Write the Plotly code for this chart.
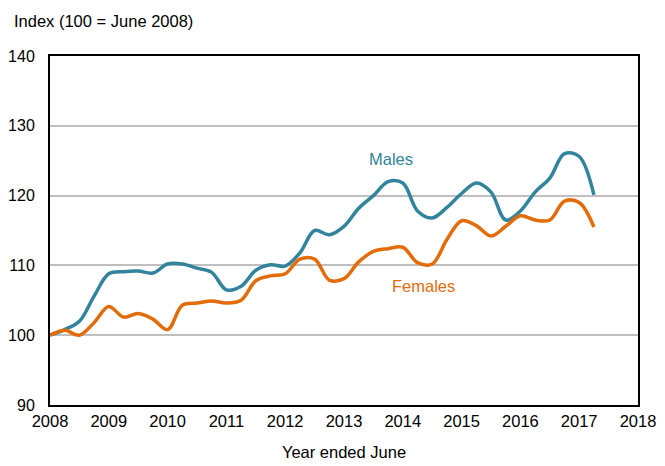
import plotly.graph_objects as go

years = [2008 + i * 0.25 for i in range(38)]

males = [100.0, 100.8, 102.0, 105.6, 108.8, 109.1, 109.2, 108.9,
         110.2, 110.2, 109.6, 109.0, 106.5, 107.0, 109.3, 110.1,
         109.9, 111.8, 115.0, 114.4, 115.6, 118.2, 120.0, 122.0,
         121.8, 117.8, 116.8, 118.3, 120.3, 121.8, 120.5, 116.5,
         117.8, 120.5, 122.5, 126.0, 125.6, 120.1]

females = [100.0, 100.7, 100.0, 101.8, 104.1, 102.6, 103.1, 102.3,
           100.8, 104.3, 104.6, 104.9, 104.6, 105.0, 107.8, 108.5,
           108.8, 110.9, 110.9, 107.9, 108.1, 110.5, 112.0, 112.4,
           112.6, 110.4, 110.2, 113.7, 116.4, 115.7, 114.2, 115.6,
           117.1, 116.5, 116.5, 119.2, 119.0, 115.5]

x_ticks = list(range(2008, 2019))
y_ticks = [90, 100, 110, 120, 130, 140]

TEAL = "#31849B"
ORANGE = "#E36C09"
FONT = "Liberation Sans, Arial, sans-serif"

fig = go.Figure()
fig.add_trace(go.Scatter(x=years, y=males, mode="lines", name="Males",
                         line=dict(color=TEAL, width=3.5, shape="spline", smoothing=1)))
fig.add_trace(go.Scatter(x=years, y=females, mode="lines", name="Females",
                         line=dict(color=ORANGE, width=3.5, shape="spline", smoothing=1)))

# page body has an 8px margin; size/margins compensate for it
fig.update_layout(
    width=657, height=458,
    margin=dict(l=42, r=27, t=48, b=61, autoexpand=False),
    plot_bgcolor="white", paper_bgcolor="white",
    showlegend=False,
    font=dict(family=FONT, size=16, color="black"),
    xaxis=dict(range=[2008, 2018], tickvals=x_ticks, ticktext=[str(t) for t in x_ticks],
               showgrid=False, zeroline=False, showline=True, linecolor="black", linewidth=2,
               mirror=True, ticks="", tickfont=dict(size=16.5), automargin=False,
               title=dict(text="Year ended June", font=dict(size=16.5), standoff=18)),
    yaxis=dict(range=[90, 140], tickvals=y_ticks, showgrid=True, gridcolor="#BFBFBF", gridwidth=2,
               zeroline=False, showline=True, linecolor="black", linewidth=2, mirror=True,
               ticks="", tickfont=dict(size=16), ticklabelstandoff=10, automargin=False),
    annotations=[
        dict(text="Index (100 = June 2008)", xref="paper", yref="paper",
             x=(12 - 50) / 588, y=1 + (56 - 21) / 349, xanchor="left", yanchor="middle",
             showarrow=False, font=dict(size=16.5)),
        dict(text="Males", x=2013.8, y=125.3, xref="x", yref="y", showarrow=False,
             font=dict(size=16.5, color=TEAL)),
        dict(text="Females", x=2014.35, y=107.05, xref="x", yref="y", showarrow=False,
             font=dict(size=16.5, color=ORANGE)),
    ],
)

fig.write_html("out.html")
